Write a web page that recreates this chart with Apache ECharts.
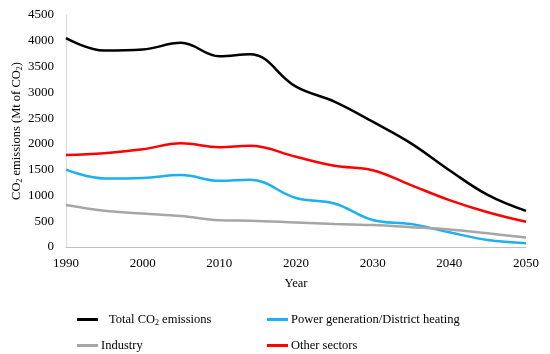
<!DOCTYPE html>
<html><head><meta charset="utf-8">
<script src="https://cdn.jsdelivr.net/npm/echarts@6/dist/echarts.min.js"></script>
<style>html,body{margin:0;padding:0;background:#fff}#c{width:550px;height:354px}</style>
</head><body><div id="c"></div>
<script>
const years = [1990,1995,2000,2005,2010,2014,2020,2025,2030,2035,2040,2045,2050];
const total = [4050,3810,3830,3960,3700,3740,3110,2820,2430,2010,1490,1010,700];
const power = [1500,1330,1340,1395,1285,1305,950,845,525,445,285,135,75];
const industry = [815,705,650,600,520,510,475,445,425,385,340,265,185];
const other = [1785,1820,1895,2010,1935,1965,1750,1575,1490,1200,910,675,490];
const seriesNames = ['Total CO2 emissions','Power generation/District heating','Industry','Other sectors'];
const seriesData = [total, power, industry, other];
const colors = ['#000000','#1cb0f0','#a6a6a6','#ff0000'];
const yTicks = [0,500,1000,1500,2000,2500,3000,3500,4000,4500];

const font = "'Liberation Serif', 'DejaVu Serif', serif";
const richSub = {
  n:{fontFamily:font,fontSize:12.5,color:'#000'},
  s:{fontFamily:font,fontSize:8,color:'#000',verticalAlign:'bottom',lineHeight:14}
};
const chart = echarts.init(document.getElementById('c'));
const legendPos = [
  {left:72, top:308},
  {left:262, top:308},
  {left:72, top:334},
  {left:262, top:334}
];
chart.setOption({
  animation:false,
  textStyle:{fontFamily:font},
  grid:{left:66,right:24,top:15,bottom:107},
  xAxis:{type:'value',min:1990,max:2050,interval:10,
    name:'Year',nameLocation:'middle',nameGap:30,nameMoveOverlap:false,
    nameTextStyle:{fontFamily:font,fontSize:12.5,color:'#000'},
    axisLine:{lineStyle:{color:'#bfbfbf',width:1}},axisTick:{show:false},
    axisLabel:{fontFamily:font,fontSize:13,color:'#000',margin:10,formatter:v=>String(v)},
    splitLine:{show:false}},
  yAxis:{type:'value',min:yTicks[0],max:yTicks[yTicks.length-1],interval:500,
    name:'{n|CO}{s|2}{n| emissions (Mt of CO}{s|2}{n|)}',nameLocation:'middle',nameGap:42,nameMoveOverlap:false,
    nameTextStyle:{fontFamily:font,fontSize:12.5,color:'#000',rich:richSub},
    axisLine:{show:true,lineStyle:{color:'#d9d9d9',width:1}},axisTick:{show:false},
    axisLabel:{fontFamily:font,fontSize:13,color:'#000',margin:12,formatter:v=>String(v)},
    splitLine:{show:false}},
  legend: seriesNames.map((n,i)=>({
    data:[n], left:legendPos[i].left, top:legendPos[i].top,
    icon:'rect', itemWidth:21, itemHeight:3, itemGap:0,
    formatter: name => '{n|' + name.replace(/CO2/g,'CO}{s|2}{n|') + '}',
    textStyle:{fontFamily:font,fontSize:12.5,color:'#000',padding:[0,0,0,i===0?6:-2],rich:richSub}
  })),
  series: seriesNames.map((n,i)=>({
    name:n,type:'line',smooth:0.4,symbol:'none',
    lineStyle:{color:colors[i],width:2.5},itemStyle:{color:colors[i]},
    data: years.map((y,j)=>[y,seriesData[i][j]])
  }))
});
</script></body></html>
